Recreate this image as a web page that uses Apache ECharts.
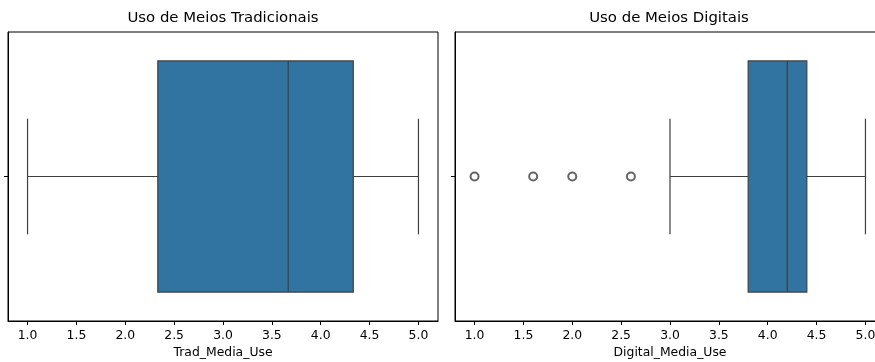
<!DOCTYPE html>
<html>
<head>
<meta charset="utf-8">
<script src="https://cdn.jsdelivr.net/npm/echarts@6/dist/echarts.min.js"></script>
<style>
html,body{margin:0;padding:0;background:#fff;}
#chart{width:875px;height:362px;}
</style>
</head>
<body>
<div id="chart"></div>
<script>
// Data
const titles = ['Uso de Meios Tradicionais', 'Uso de Meios Digitais'];
const axisNames = ['Trad_Media_Use', 'Digital_Media_Use'];
const tickLabels = [1.0, 1.5, 2.0, 2.5, 3.0, 3.5, 4.0, 4.5, 5.0];
// [lower whisker, Q1, median, Q3, upper whisker]
const tradBox = [1.0, 2.333, 3.667, 4.333, 5.0];
const digitalBox = [3.0, 3.8, 4.2, 4.4, 5.0];
const tradOutliers = [];
const digitalOutliers = [1.0, 1.6, 2.0, 2.6];

const FONT = 'DejaVu Sans';
const LINE = '#3f3f3f';
const FILL = '#3274a1';

const grids = [
  {left: 8, top: 32, width: 430, height: 289},
  {left: 455, top: 32, width: 430, height: 289}
];

function xAxisFor(i) {
  return {
    type: 'value', gridIndex: i, min: 0.8, max: 5.2, interval: 0.5,
    name: axisNames[i], nameLocation: 'middle', nameGap: 26,
    nameTextStyle: {fontFamily: FONT, fontSize: 12.4, color: '#000'},
    splitLine: {show: false},
    axisLine: {show: true, onZero: false, lineStyle: {color: '#000', width: 1}},
    axisTick: {show: true, length: 4, lineStyle: {color: '#000'},
      customValues: tickLabels},
    axisLabel: {show: true, fontFamily: FONT, fontSize: 12.4, color: '#000', margin: 9,
      customValues: tickLabels,
      formatter: v => Number(v).toFixed(1)}
  };
}
function yAxisFor(i) {
  return {
    type: 'category', gridIndex: i, data: [''],
    axisLine: {show: true, lineStyle: {color: '#000'}},
    axisTick: {show: true, alignWithLabel: true, length: 4, lineStyle: {color: '#000'}},
    axisLabel: {show: false},
    splitLine: {show: false}
  };
}

function boxRender(params, api) {
  const lo = api.value(0), q1 = api.value(1), md = api.value(2), q3 = api.value(3), hi = api.value(4);
  const c = api.coord([q1, 0]);
  const band = api.size([0, 1])[1];
  const h = band * 0.8;
  const yc = c[1];
  const xLo = api.coord([lo, 0])[0], xQ1 = c[0], xMd = api.coord([md, 0])[0],
        xQ3 = api.coord([q3, 0])[0], xHi = api.coord([hi, 0])[0];
  const ls = {stroke: LINE, lineWidth: 1.2};
  return {
    type: 'group',
    children: [
      {type: 'line', shape: {x1: xLo, y1: yc, x2: xQ1, y2: yc}, style: ls},
      {type: 'line', shape: {x1: xQ3, y1: yc, x2: xHi, y2: yc}, style: ls},
      {type: 'line', shape: {x1: xLo, y1: yc - h / 4, x2: xLo, y2: yc + h / 4}, style: ls},
      {type: 'line', shape: {x1: xHi, y1: yc - h / 4, x2: xHi, y2: yc + h / 4}, style: ls},
      {type: 'rect', shape: {x: xQ1, y: yc - h / 2, width: xQ3 - xQ1, height: h},
        style: {fill: FILL, stroke: LINE, lineWidth: 1.2}},
      {type: 'line', shape: {x1: xMd, y1: yc - h / 2, x2: xMd, y2: yc + h / 2}, style: ls}
    ]
  };
}

const option = {
  animation: false,
  backgroundColor: '#fff',
  title: [
    {text: titles[0], left: 223, top: 11, textAlign: 'center', padding: 0,
      textStyle: {fontFamily: FONT, fontSize: 14.9, fontWeight: 'normal', color: '#000'}},
    {text: titles[1], left: 669, top: 11, textAlign: 'center', padding: 0,
      textStyle: {fontFamily: FONT, fontSize: 14.9, fontWeight: 'normal', color: '#000'}}
  ],
  grid: grids.map(g => Object.assign({show: true, borderColor: '#000', borderWidth: 1,
    backgroundColor: 'transparent', containLabel: false, outerBoundsMode: 'none'}, g)),
  xAxis: [xAxisFor(0), xAxisFor(1)],
  yAxis: [yAxisFor(0), yAxisFor(1)],
  series: [
    {type: 'custom', xAxisIndex: 0, yAxisIndex: 0, renderItem: boxRender,
      data: [tradBox], clip: false},
    {type: 'custom', xAxisIndex: 1, yAxisIndex: 1, renderItem: boxRender,
      data: [digitalBox], clip: false},
    {type: 'scatter', xAxisIndex: 0, yAxisIndex: 0, symbol: 'emptyCircle', symbolSize: 8,
      itemStyle: {color: LINE, borderColor: LINE, borderWidth: 1.1},
      data: tradOutliers.map(v => [v, 0])},
    {type: 'scatter', xAxisIndex: 1, yAxisIndex: 1, symbol: 'emptyCircle', symbolSize: 8,
      itemStyle: {color: LINE, borderColor: LINE, borderWidth: 1.1},
      data: digitalOutliers.map(v => [v, 0])}
  ]
};

const chart = echarts.init(document.getElementById('chart'), null, {renderer: 'canvas'});
chart.setOption(option);
</script>
</body>
</html>
